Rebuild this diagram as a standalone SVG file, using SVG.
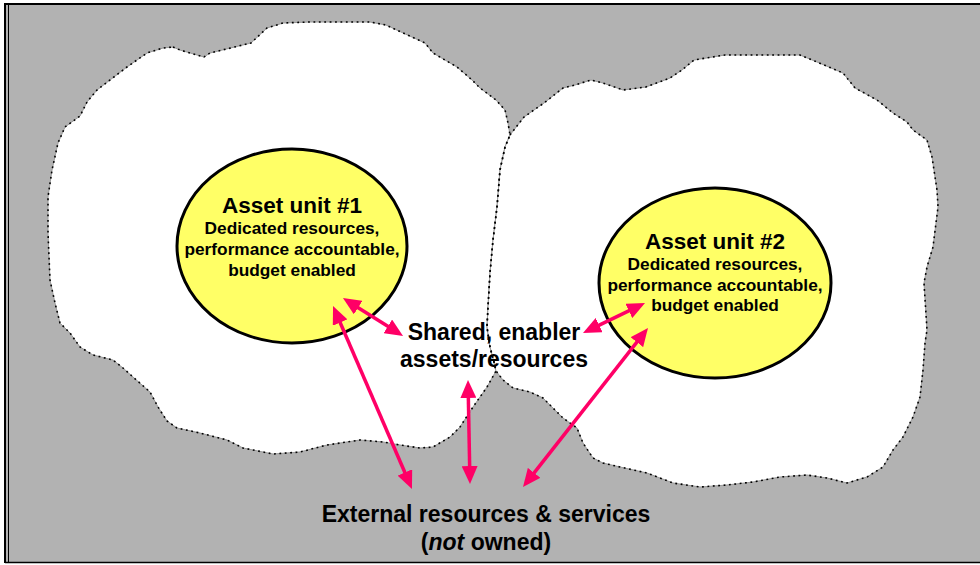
<svg xmlns="http://www.w3.org/2000/svg" xmlns:xlink="http://www.w3.org/1999/xlink" width="980" height="565" viewBox="0 0 980 565">
<style>
  .frame { stroke: #000; fill: none; }
  .blob { fill: #fff; stroke: #9a9a9a; stroke-width: 1; }
  .blobdots { fill: none; stroke: #000; stroke-width: 1.6; stroke-dasharray: 1.8 3.6; }
  .unit { fill: #ffff66; stroke: #000; stroke-width: 3; }
  .t { font-family: "Liberation Sans", Arial, sans-serif; font-weight: bold; fill: #000; text-anchor: middle; }
  .title { font-size: 22.5px; }
  .sub { font-size: 17.3px; }
  .lbl { font-size: 23px; }
  .arrow { stroke: #ff0066; stroke-width: 3.5; fill: none; marker-start: url(#ah); marker-end: url(#ah); }
</style>
<defs>
  <marker id="ah" viewBox="0 0 18 16" refX="8" refY="8" markerWidth="18" markerHeight="16" markerUnits="userSpaceOnUse" orient="auto-start-reverse">
    <path d="M0,0 L18,8 L0,16 Z" fill="#ff0066"/>
  </marker>
  <path id="leftBlob" d="M173,47 L180,50 204,57 210,53 251,43 267,28 283,23 310,22 370,22 386,25 401,32 425,43 433,53 457,67 472,80 480,88 496,100 505,110 508,123 510,135 505,147 500,170 497,207 493,240 490,273 488,307 487,327 490,347 494,362 496,371 487,387 473,407 460,427 450,437 433,447 420,448 400,445 383,442 360,440 327,445 300,452 273,454 243,448 227,440 200,433 177,428 167,421 158,407 150,392 133,377 123,368 113,360 93,355 80,347 70,333 60,323 55,303 50,280 48,233 48,197 52,170 58,143 65,127 80,116 87,102 97,90 110,80 127,67 147,53 163,48 Z"/>
  <path id="rightBlob" d="M510,135 L524,117 544,103 563,88 575,85 591,80 603,83 623,90 646,87 670,78 682,70 694,60 725,55 780,55 800,55 817,62 843,73 855,88 877,100 893,113 907,122 913,130 927,140 932,157 937,190 938,207 933,247 927,267 924,283 927,330 925,343 923,370 920,397 913,417 903,437 893,450 883,467 867,477 847,483 827,478 807,475 780,477 753,482 727,485 700,487 673,483 647,473 620,467 603,463 593,458 583,443 577,428 563,418 553,408 543,398 530,392 513,388 503,380 496,371 494,362 490,347 487,327 488,307 490,273 493,240 497,207 500,170 505,147 Z"/>
</defs>

<g id="background">
  <rect x="5" y="4" width="975" height="558" fill="#b2b2b2"/>
  <line class="frame" x1="5" y1="4" x2="980" y2="4" stroke-width="2"/>
  <line class="frame" x1="5" y1="3" x2="5" y2="563" stroke-width="2"/>
  <line class="frame" x1="8.5" y1="5" x2="8.5" y2="562" stroke-width="1"/>
  <line class="frame" x1="5" y1="562.5" x2="980" y2="562.5" stroke-width="1.5"/>
</g>

<g id="blobs">
  <use xlink:href="#leftBlob" class="blob"/>
  <use xlink:href="#rightBlob" class="blob"/>
  <use xlink:href="#leftBlob" class="blobdots"/>
  <use xlink:href="#rightBlob" class="blobdots"/>
</g>

<g id="unit1">
  <ellipse class="unit" cx="292" cy="246" rx="115" ry="97"/>
  <text class="t title" x="292" y="213">Asset unit #1</text>
  <text class="t sub" x="292" y="234">Dedicated resources,</text>
  <text class="t sub" x="292" y="255">performance accountable,</text>
  <text class="t sub" x="292" y="276">budget enabled</text>
</g>

<g id="unit2">
  <ellipse class="unit" cx="715" cy="283" rx="116" ry="95"/>
  <text class="t title" x="715" y="249">Asset unit #2</text>
  <text class="t sub" x="715" y="270">Dedicated resources,</text>
  <text class="t sub" x="715" y="291">performance accountable,</text>
  <text class="t sub" x="715" y="311">budget enabled</text>
</g>

<g id="shared">
  <text class="t lbl" x="494" y="340">Shared, enabler</text>
  <text class="t lbl" x="494" y="367">assets/resources</text>
</g>

<g id="external">
  <text class="t lbl" x="486" y="522">External resources &amp; services</text>
  <text class="t lbl" x="486" y="550">(<tspan font-style="italic">not</tspan> owned)</text>
</g>

<g id="connectors">
  <line class="arrow" x1="351.4" y1="303.4" x2="394.6" y2="330.6"/>
  <line class="arrow" x1="337" y1="315.2" x2="408" y2="479.8"/>
  <line class="arrow" x1="468.2" y1="390" x2="469.8" y2="474"/>
  <line class="arrow" x1="592" y1="328.6" x2="636" y2="307.4"/>
  <line class="arrow" x1="641.8" y1="335.9" x2="529.2" y2="479.1"/>
</g>
</svg>
